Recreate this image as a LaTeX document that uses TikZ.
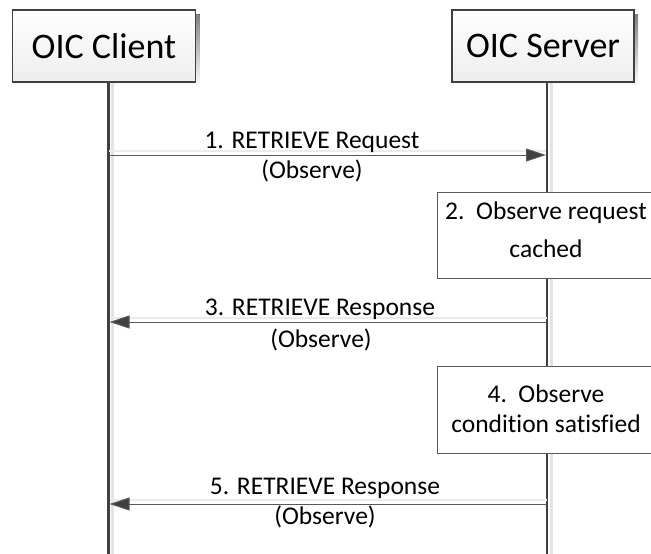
\documentclass[tikz,border=0pt]{standalone}
\usepackage{fontspec}
\setmainfont{Carlito}[Ligatures=NoCommon]
\usetikzlibrary{arrows.meta}
\definecolor{edge}{HTML}{404040}
\definecolor{thin}{HTML}{595959}
\definecolor{shade}{HTML}{E3E3E3}
\begin{document}
\begin{tikzpicture}[x=1pt,y=-1pt,
  actor/.style={draw=edge, line width=1.5pt, top color=white, bottom color=black!7, minimum width=183pt, minimum height=72pt, inner sep=0pt, font=\fontsize{36}{42}\selectfont},
  notebox/.style={draw=thin, line width=1pt, fill=white, minimum width=220pt, inner sep=0pt},
  lbl/.style={font=\fontsize{25.5}{30}\selectfont, inner sep=0pt, anchor=base},
  msg/.style={draw=thin, line width=1pt, -{Triangle[length=20pt,width=13pt,fill=edge]}},
  life/.style={draw=edge, line width=2.6pt},
  shadowline/.style={draw=shade, line width=3pt},
  msgshadow/.style={draw=shade!70, line width=1.5pt}
]
\useasboundingbox (0,0) rectangle (651,554);
\clip (0,0) rectangle (651,554);

% actor shadows
\fill[shade] (16.5,14) rectangle (199.5,86);
\fill[shade] (456,14) rectangle (638,86);

% actors
\node[actor] (client) at (104,46) {OIC Client};
\node[actor, minimum width=182pt] (server) at (543,46) {OIC Server};

% lifeline ends
\coordinate (cend) at (108.5,554);
\coordinate (send) at (547,554);

% lifeline shadows
\draw[shadowline] ([xshift=4pt]client.south -| cend) -- ([xshift=4pt]cend);
\draw[shadowline] ([xshift=4pt]server.south -| send) -- ([xshift=4pt]send);

% lifelines
\draw[life] (client.south -| cend) -- (cend);
\draw[life] (server.south -| send) -- (send);

% message points
\coordinate (m1a) at (108.5,155); \coordinate (m1b) at (546,155);
\coordinate (m3a) at (547,322);   \coordinate (m3b) at (109.5,322);
\coordinate (m5a) at (547,504);   \coordinate (m5b) at (109.5,504);

% message shadows
\draw[msgshadow] ([yshift=4pt]m1a) -- ([yshift=4pt]m1b);
\draw[msgshadow] ([yshift=4pt]m3a) -- ([yshift=4pt]m3b);
\draw[msgshadow] ([yshift=4pt]m5a) -- ([yshift=4pt]m5b);

% messages
\draw[msg] (m1a) -- (m1b);
\draw[msg] (m3a) -- (m3b);
\draw[msg] (m5a) -- (m5b);

% message labels
\node[lbl] (l1a) at (312,148) {1. RETRIEVE Request};
\node[lbl] (l1b) at (312,178) {(Observe)};
\node[lbl] (l3a) at (320,315) {3. RETRIEVE Response};
\node[lbl] (l3b) at (321,347) {(Observe)};
\node[lbl] (l5a) at (325,494) {5. RETRIEVE Response};
\node[lbl] (l5b) at (325,524) {(Observe)};

% notes
\node[notebox, minimum height=86pt] (n2) at (547,235) {};
\node[lbl] (n2a) at (546,219) {2.\ \ Observe request};
\node[lbl] (n2b) at (546,257) {cached};

\node[notebox, minimum height=87pt] (n4) at (547,409.5) {};
\node[lbl] (n4a) at (546,402) {4.\ \ Observe};
\node[lbl] (n4b) at (546,432) {condition satisfied};
\end{tikzpicture}
\end{document}
